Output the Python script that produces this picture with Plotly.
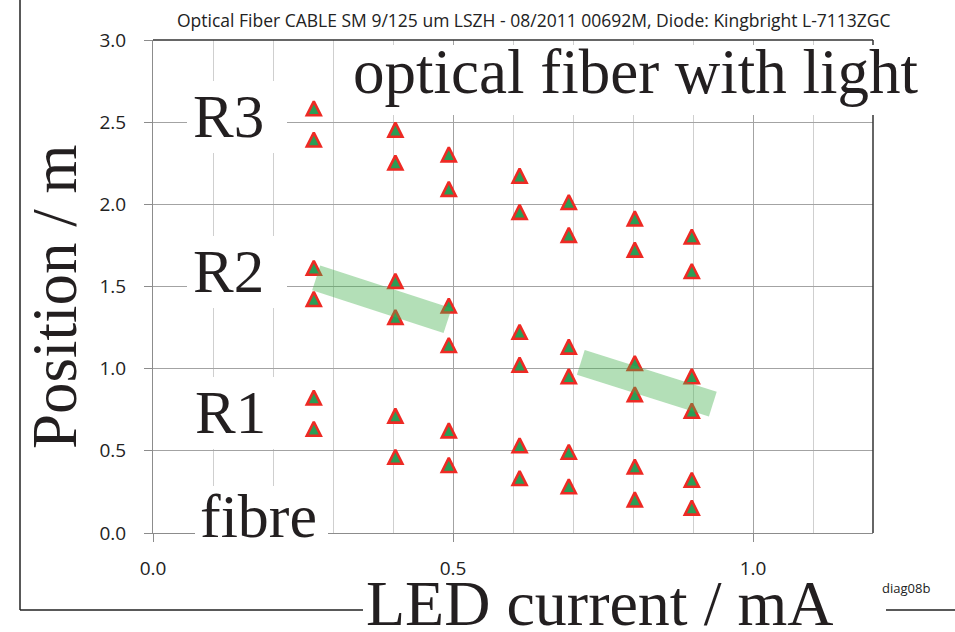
import math
import plotly.graph_objects as go

# LED drive current (mA) for each measurement column
current_mA = [0.268, 0.404, 0.493, 0.611, 0.693, 0.803, 0.898]

# Positions along the fibre (m) where the light edges were seen, per region
pos_R3_upper = [2.58, 2.45, 2.30, 2.17, 2.01, 1.91, 1.80]
pos_R3_lower = [2.39, 2.25, 2.09, 1.95, 1.81, 1.72, 1.59]
pos_R2_upper = [1.61, 1.53, 1.38, 1.22, 1.13, 1.03, 0.95]
pos_R2_lower = [1.42, 1.31, 1.14, 1.02, 0.95, 0.84, 0.74]
pos_R1_upper = [0.82, 0.71, 0.62, 0.53, 0.49, 0.40, 0.32]
pos_R1_lower = [0.63, 0.46, 0.41, 0.33, 0.28, 0.20, 0.15]

# Highlight bands (start/end current, start/end position)
band1_x = [0.272, 0.491]
band1_y = [1.553, 1.292]
band2_x = [0.713, 0.933]
band2_y = [1.038, 0.784]

x_ticks = [0.0, 0.5, 1.0]
x_tick_text = ["0.0", "0.5", "1.0"]
y_ticks = [0.0, 0.5, 1.0, 1.5, 2.0, 2.5, 3.0]
y_tick_text = ["0.0", "0.5", "1.0", "1.5", "2.0", "2.5", "3.0"]

W, H = 955, 632
ML, MR, MT, MB = 153, 82, 40, 99
PW, PH = W - ML - MR, H - MT - MB
Y_MAX = 3.0


def px(xpix):
    return (xpix - ML) / PW


def py(ypix):
    return (H - MB - ypix) / PH


SERIF = "Liberation Serif"
SANS = "Open Sans"

# Triangle markers: "arrow-up" gives a taller triangle than "triangle-up",
# but it hangs below its anchor point.  The markers therefore live on a
# hidden twin axis whose range is offset by the triangle's visual centre,
# so each triangle is centred on its value of the visible axis.
M_SIZE, M_LINE = 14, 2.6
centre_px = (M_SIZE + M_LINE / 2 - (M_LINE / 2) * math.sqrt(5)) / 2 + 1.5
delta = centre_px * Y_MAX / PH

fig = go.Figure()

all_series = [pos_R3_upper, pos_R3_lower, pos_R2_upper,
              pos_R2_lower, pos_R1_upper, pos_R1_lower]
xs, ys = [], []
for s in all_series:
    xs += current_mA
    ys += s

fig.add_trace(go.Scatter(
    x=xs, y=ys, mode="markers", yaxis="y",
    marker=dict(symbol="arrow-up", size=M_SIZE, color="#2a9d55",
                line=dict(color="#ee2a24", width=M_LINE)),
    showlegend=False, hoverinfo="skip"))

for bx, by in [(band1_x, band1_y), (band2_x, band2_y)]:
    fig.add_trace(go.Scatter(
        x=bx, y=by, mode="lines", yaxis="y2",
        line=dict(color="rgba(65,175,75,0.4)", width=26),
        showlegend=False, hoverinfo="skip"))

axis_common = dict(
    showline=True, linecolor="#8c8c8c", linewidth=1,
    ticks="outside", ticklen=8, tickcolor="#8c8c8c", tickwidth=1,
    showgrid=True, gridcolor="#a3a3a3", gridwidth=1,
    zeroline=False, tickfont=dict(family=SANS, size=19, color="#222"),
)

fig.update_layout(
    xaxis=dict(range=[0, 1.2], tickvals=x_ticks, ticktext=x_tick_text,
               minor=dict(dtick=0.1, showgrid=True, gridcolor="#cfcfcf",
                          ticks=""),
               ticklabelstandoff=10, anchor="y2", **axis_common),
    yaxis=dict(range=[-delta, Y_MAX - delta], visible=False,
               showgrid=False, zeroline=False),
    yaxis2=dict(range=[0, Y_MAX], tickvals=y_ticks, ticktext=y_tick_text,
                overlaying="y", side="left", anchor="x",
                ticklabelstandoff=14, **axis_common),
)

shapes = []
# top and right edges of the plot frame
shapes.append(dict(type="line", xref="paper", yref="paper", x0=0, x1=1,
                   y0=1, y1=1, line=dict(color="#333", width=1.5)))
shapes.append(dict(type="line", xref="paper", yref="paper", x0=1, x1=1,
                   y0=0, y1=1, line=dict(color="#333", width=1.5)))
# outer frame (left and bottom)
shapes.append(dict(type="line", xref="paper", yref="paper", x0=px(20),
                   x1=px(20), y0=py(610), y1=py(-5),
                   line=dict(color="#222", width=1.5)))
shapes.append(dict(type="line", xref="paper", yref="paper", x0=px(20),
                   x1=px(960), y0=py(610), y1=py(610),
                   line=dict(color="#222", width=1.5)))

annotations = []
annotations.append(dict(
    text="Optical Fiber CABLE SM 9/125 um LSZH - 08/2011 00692M, Diode: Kingbright L-7113ZGC",
    x=px(534), y=py(20), xref="paper", yref="paper", xanchor="center",
    yanchor="middle", showarrow=False,
    font=dict(family=SANS, size=17.5, color="#222")))
annotations.append(dict(
    text="diag08b", x=px(932), y=py(588), xref="paper", yref="paper",
    xanchor="right", yanchor="middle", showarrow=False,
    font=dict(family=SANS, size=13, color="#222")))

# white label boxes (drawn over grid, frame and the small label above)
boxes = [
    (337, 45, 925, 115),   # optical fiber with light
    (187, 81, 287, 153),   # R3
    (187, 236, 287, 308),  # R2
    (187, 377, 287, 449),  # R1
    (195, 486, 328, 556),  # fibre
    (363, 582, 886, 640),  # LED current / mA
]
for x0, y0, x1, y1 in boxes:
    shapes.append(dict(type="rect", xref="paper", yref="paper",
                       x0=px(x0), x1=px(x1), y0=py(y1), y1=py(y0),
                       fillcolor="white", line=dict(width=0)))

fig.update_layout(shapes=shapes)


def serif_label(text, left, baseline, size=62):
    return dict(text=text, x=px(left), y=py(baseline + 0.216 * size + 1),
                xref="paper", yref="paper", xanchor="left", yanchor="bottom",
                showarrow=False, borderpad=0,
                font=dict(family=SERIF, size=size, color="#231f20"))


annotations.append(serif_label("optical fiber with light", 352, 93, 63))
annotations.append(serif_label("R3", 192, 137, 61))
annotations.append(serif_label("R2", 192, 292, 61))
annotations.append(serif_label("R1", 194, 433, 61))
annotations.append(serif_label("fibre", 199, 537, 62))
annotations.append(serif_label("LED current / mA", 365, 625, 64))
annotations.append(dict(
    text="Position / m", x=px(55), y=py(297), xref="paper", yref="paper",
    xanchor="center", yanchor="middle", textangle=-90, showarrow=False,
    font=dict(family=SERIF, size=63, color="#231f20")))

fig.update_layout(
    annotations=annotations,
    width=W, height=H,
    margin=dict(l=ML, r=MR, t=MT, b=MB, pad=0),
    paper_bgcolor="white", plot_bgcolor="white",
    showlegend=False,
)

fig.write_html("out.html")
